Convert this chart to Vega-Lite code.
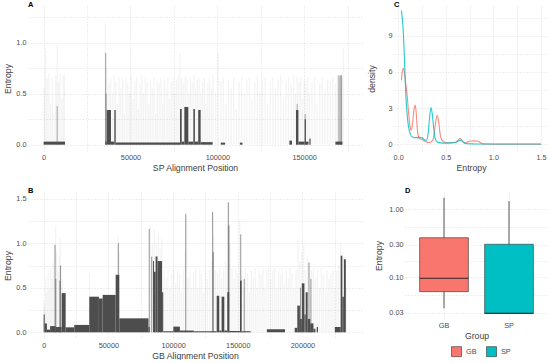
{
"$schema": "https://vega.github.io/schema/vega-lite/v6.json",
"padding": {"left": 3, "top": 0, "right": 0, "bottom": 0},
"background": "white",
"config": {
  "view": {"stroke": null},
  "font": "Liberation Sans",
  "axis": {"labelFontSize": 7.3, "labelColor": "#4d4d4d", "titleFontSize": 8.7, "titleColor": "#404040", "titleFontWeight": "normal", "domain": false, "ticks": false, "gridColor": "#d6d6d6", "gridDash": [1, 2], "gridWidth": 0.8, "labelPadding": 2, "titlePadding": 3, "labelFlush": false, "labelOverlap": false},
  "title": {"fontSize": 7.5, "fontWeight": "bold", "color": "#000000", "anchor": "start", "frame": "group", "offset": -2}
},
"resolve": {"scale": {"fill": "independent", "stroke": "independent"}, "legend": {"fill": "independent", "stroke": "independent"}},
"datasets": {
  "A_faint": [
    {"p":300,"e":0.55},{"p":1200,"e":0.95},{"p":2000,"e":0.65},{"p":3000,"e":0.7},{"p":4000,"e":0.4},{"p":5000,"e":0.66},{"p":6000,"e":0.3},{"p":7000,"e":0.68},{"p":7800,"e":0.98},{"p":8600,"e":0.62},{"p":9500,"e":0.7},{"p":10500,"e":0.45},{"p":11300,"e":0.68},{"p":12000,"e":0.7},
    {"p":35500,"e":1.2},{"p":35800,"e":0.9},{"p":36500,"e":0.75},{"p":37500,"e":0.6},{"p":38500,"e":0.65},{"p":39500,"e":0.5},{"p":40500,"e":0.68},{"p":41500,"e":0.62},{"p":42500,"e":0.4},{"p":43500,"e":0.66},{"p":44500,"e":0.55},{"p":45500,"e":0.64},{"p":46500,"e":0.3},{"p":47500,"e":0.66},{"p":48500,"e":0.6},{"p":49500,"e":0.5},{"p":50500,"e":0.67},{"p":51500,"e":0.45},{"p":52500,"e":0.62},{"p":53500,"e":0.66},{"p":54500,"e":0.35},{"p":55500,"e":0.6},{"p":56500,"e":0.68},{"p":57500,"e":0.5},{"p":58500,"e":0.66},{"p":59500,"e":0.62},{"p":60500,"e":0.4},{"p":61500,"e":0.65},{"p":62500,"e":0.55},{"p":63500,"e":0.66},{"p":64500,"e":0.3},{"p":65500,"e":0.62},{"p":66500,"e":0.6},{"p":67500,"e":0.66},{"p":68500,"e":0.4},{"p":69500,"e":0.64},{"p":70500,"e":0.55},{"p":71500,"e":0.66},{"p":72500,"e":0.45},{"p":73500,"e":0.62},{"p":74500,"e":0.66},{"p":75500,"e":0.5},{"p":76500,"e":0.64},{"p":77500,"e":0.68},{"p":78500,"e":0.9},{"p":79500,"e":0.66},{"p":80500,"e":0.6},{"p":81500,"e":0.68},{"p":82500,"e":0.65},{"p":83500,"e":0.5},{"p":84500,"e":0.66},{"p":85500,"e":0.62},{"p":86500,"e":0.68},{"p":87500,"e":0.55},{"p":88500,"e":0.64},{"p":89500,"e":0.66},{"p":90500,"e":0.5},{"p":91500,"e":0.62},{"p":92500,"e":0.66},{"p":93500,"e":0.4},{"p":94500,"e":0.6},{"p":95500,"e":0.66},{"p":96500,"e":0.55},{"p":97500,"e":0.68},{"p":99000,"e":0.5},{"p":100500,"e":0.9},{"p":102000,"e":0.62},{"p":103500,"e":0.66},{"p":105000,"e":0.4},{"p":106500,"e":0.64},{"p":108000,"e":0.55},{"p":109500,"e":0.66},{"p":111000,"e":0.35},{"p":112500,"e":0.62},{"p":114000,"e":0.66},{"p":115500,"e":0.5},{"p":117000,"e":0.64},{"p":118500,"e":0.66},{"p":120000,"e":0.45},{"p":121500,"e":0.62},{"p":123000,"e":0.68},{"p":124500,"e":0.5},{"p":126000,"e":0.64},{"p":127500,"e":0.66},{"p":129000,"e":0.4},{"p":130500,"e":0.62},{"p":132000,"e":0.66},{"p":133500,"e":0.55},{"p":135000,"e":0.64},{"p":136500,"e":0.68},{"p":138000,"e":0.45},{"p":139500,"e":0.62},{"p":141000,"e":0.66},{"p":142500,"e":0.6},{"p":144000,"e":0.68},{"p":145000,"e":0.5},{"p":146000,"e":0.66},{"p":147000,"e":0.62},{"p":148000,"e":0.66},{"p":149000,"e":0.45},{"p":150000,"e":0.64},{"p":151000,"e":0.6},{"p":152000,"e":0.66},{"p":153000,"e":0.5},{"p":154500,"e":0.62},{"p":156000,"e":0.66},{"p":157500,"e":0.4},{"p":159000,"e":0.6},{"p":160500,"e":0.66},{"p":162000,"e":0.55},{"p":163500,"e":0.64},{"p":165000,"e":0.62},{"p":166500,"e":0.66},{"p":168000,"e":0.6},{"p":169000,"e":0.68},{"p":169500,"e":0.68},{"p":170000,"e":0.66},{"p":170500,"e":0.68},{"p":171000,"e":0.7},{"p":171500,"e":0.68},{"p":172000,"e":0.66},{"p":172500,"e":0.95}
  ],
  "A_mid": [
    {"p":7800,"e":0.38},{"p":35700,"e":0.9},{"p":36000,"e":0.5},{"p":146000,"e":0.4},{"p":150600,"e":0.3},{"p":170000,"e":0.68},{"p":170800,"e":0.68},{"p":171500,"e":0.68}
  ],
  "A_dark": [
    {"p":0,"p2":12300,"e":0.03},{"p":35500,"p2":36300,"e":0.03},{"p":36300,"p2":38800,"e":0.34},{"p":38800,"p2":40700,"e":0.03},{"p":40700,"p2":41500,"e":0.34},{"p":41500,"p2":78500,"e":0.022},{"p":78500,"p2":79500,"e":0.35},{"p":79500,"p2":81000,"e":0.03},{"p":81000,"p2":83300,"e":0.37},{"p":83300,"p2":86200,"e":0.03},{"p":86200,"p2":87100,"e":0.35},{"p":87100,"p2":89000,"e":0.03},{"p":89000,"p2":90400,"e":0.34},{"p":90400,"p2":97300,"e":0.025},{"p":102000,"p2":104500,"e":0.02},{"p":113000,"p2":114500,"e":0.02},{"p":141500,"p2":143000,"e":0.04},{"p":145300,"p2":146700,"e":0.34},{"p":146700,"p2":150300,"e":0.03},{"p":150300,"p2":151000,"e":0.25},{"p":151000,"p2":152500,"e":0.03},{"p":153000,"p2":153700,"e":0.06},{"p":168000,"p2":172000,"e":0.03}
  ],
  "B_faint": [
    {"p":0,"e":0.35},{"p":800,"e":0.28},{"p":1500,"e":0.6},{"p":2500,"e":0.45},{"p":3500,"e":0.7},{"p":4500,"e":0.5},{"p":5500,"e":0.72},{"p":6500,"e":0.6},{"p":7500,"e":0.8},{"p":8500,"e":1.0},{"p":9200,"e":1.2},{"p":10000,"e":0.9},{"p":11000,"e":0.7},{"p":12000,"e":0.85},{"p":12800,"e":1.05},{"p":13500,"e":0.75},{"p":14500,"e":0.6},
    {"p":35500,"e":0.66},{"p":57700,"e":1.08},{"p":58200,"e":0.9},{"p":82500,"e":1.2},{"p":84000,"e":1.0},{"p":85500,"e":1.15},{"p":87000,"e":1.0},{"p":88500,"e":1.1},{"p":90000,"e":0.95},{"p":91500,"e":1.05},{"p":93000,"e":0.7},
    {"p":94500,"e":0.6},{"p":96000,"e":0.7},{"p":97500,"e":0.5},{"p":99000,"e":0.66},{"p":100500,"e":0.72},{"p":102000,"e":0.55},{"p":103500,"e":0.7},{"p":105000,"e":0.66},{"p":106500,"e":0.45},{"p":108000,"e":0.7},{"p":109500,"e":0.9},{"p":110500,"e":1.3},{"p":111500,"e":0.6},{"p":113000,"e":0.7},{"p":114500,"e":0.5},{"p":116000,"e":0.68},{"p":117500,"e":0.72},{"p":119000,"e":0.5},{"p":120500,"e":0.7},{"p":122000,"e":0.66},{"p":123500,"e":0.45},{"p":125000,"e":0.7},{"p":126500,"e":0.6},{"p":128000,"e":0.7},{"p":129500,"e":0.8},{"p":130500,"e":1.35},{"p":131500,"e":1.1},{"p":133000,"e":0.7},{"p":134500,"e":0.66},{"p":136000,"e":0.72},{"p":137500,"e":0.6},{"p":139000,"e":0.7},{"p":140500,"e":0.8},{"p":142000,"e":1.2},{"p":143000,"e":1.46},{"p":144000,"e":1.0},{"p":145500,"e":0.72},{"p":147000,"e":0.6},{"p":148500,"e":0.7},{"p":150000,"e":0.66},{"p":151500,"e":1.25},{"p":153000,"e":0.7},{"p":154500,"e":0.5},{"p":156000,"e":0.72},{"p":157500,"e":0.66},{"p":159000,"e":0.45},{"p":160500,"e":0.7},{"p":162000,"e":0.6},{"p":163500,"e":0.72},{"p":165000,"e":0.5},{"p":166500,"e":0.7},{"p":168000,"e":0.66},{"p":169500,"e":0.72},{"p":171000,"e":0.5},{"p":172500,"e":0.7},{"p":174000,"e":0.72},{"p":175500,"e":0.6},{"p":177000,"e":0.7},{"p":178500,"e":0.72},{"p":180000,"e":0.5},{"p":181500,"e":0.7},{"p":183000,"e":0.66},{"p":184500,"e":0.72},{"p":186000,"e":0.55},{"p":187500,"e":0.7},{"p":189000,"e":0.6},{"p":190500,"e":0.72},{"p":192000,"e":0.66},{"p":193500,"e":0.5},{"p":195000,"e":0.7},{"p":196500,"e":1.05},{"p":198000,"e":0.8},{"p":199500,"e":0.9},{"p":201000,"e":1.0},{"p":202500,"e":0.7},{"p":204000,"e":0.85},{"p":205500,"e":0.8},{"p":207000,"e":0.7},{"p":208500,"e":0.72},{"p":210000,"e":0.6},{"p":211500,"e":0.7},{"p":213000,"e":0.5},{"p":214500,"e":0.72},{"p":216000,"e":0.66},{"p":217500,"e":0.45},{"p":219000,"e":0.7},{"p":220500,"e":0.6},{"p":222000,"e":0.66},{"p":223500,"e":0.7},{"p":225000,"e":0.5},{"p":226500,"e":0.7},{"p":228000,"e":0.75},{"p":229500,"e":1.0},{"p":231000,"e":0.9},{"p":232500,"e":0.85},{"p":234000,"e":0.5}
  ],
  "B_mid": [
    {"p":8800,"e":0.98},{"p":9400,"e":0.6},{"p":12500,"e":0.58},{"p":13000,"e":0.75},{"p":57700,"e":1.0},{"p":81600,"e":1.16},{"p":83500,"e":0.85},{"p":109800,"e":1.33},{"p":130600,"e":1.35},{"p":131100,"e":0.9},{"p":142700,"e":1.46},{"p":143200,"e":1.2},{"p":152300,"e":1.1},{"p":155000,"e":0.6},{"p":198500,"e":0.5},{"p":205000,"e":0.78},{"p":206500,"e":0.6}
  ],
  "B_dark": [
    {"p":0,"p2":800,"e":0.2},{"p":800,"p2":2500,"e":0.1},{"p":2500,"p2":5000,"e":0.03},{"p":5000,"p2":9000,"e":0.07},{"p":9000,"p2":13900,"e":0.06},{"p":13900,"p2":17000,"e":0.44},{"p":17000,"p2":23650,"e":0.056},{"p":23650,"p2":35240,"e":0.083},{"p":35240,"p2":42700,"e":0.4},{"p":42700,"p2":45600,"e":0.38},{"p":45600,"p2":55640,"e":0.42},{"p":55640,"p2":58450,"e":0.646},{"p":58450,"p2":81000,"e":0.157},{"p":81000,"p2":82000,"e":0.06},{"p":84500,"p2":85250,"e":0.8},{"p":85250,"p2":86500,"e":0.68},{"p":86500,"p2":88000,"e":0.85},{"p":88000,"p2":91500,"e":0.8},{"p":91500,"p2":92400,"e":0.45},{"p":92400,"p2":100200,"e":0.012},{"p":100200,"p2":105300,"e":0.064},{"p":105300,"p2":116000,"e":0.02},{"p":116000,"p2":133700,"e":0.012},{"p":133700,"p2":135700,"e":0.41},{"p":135700,"p2":137500,"e":0.02},{"p":137500,"p2":139600,"e":0.4},{"p":139600,"p2":141900,"e":0.02},{"p":141900,"p2":143400,"e":0.45},{"p":143400,"p2":151700,"e":0.015},{"p":151700,"p2":153000,"e":0.58},{"p":153000,"p2":160000,"e":0.012},{"p":172500,"p2":186500,"e":0.035},{"p":194000,"p2":196000,"e":0.05},{"p":196000,"p2":198000,"e":0.3},{"p":198000,"p2":199500,"e":0.15},{"p":199500,"p2":201500,"e":0.55},{"p":201500,"p2":202500,"e":0.2},{"p":202500,"p2":204000,"e":0.45},{"p":204000,"p2":206000,"e":0.15},{"p":206000,"p2":208500,"e":0.1},{"p":208500,"p2":210000,"e":0.04},{"p":211000,"p2":212000,"e":0.06},{"p":225000,"p2":229500,"e":0.06},{"p":229500,"p2":230800,"e":0.86},{"p":230800,"p2":232000,"e":0.4},{"p":232000,"p2":233500,"e":0.82}
  ],
  "C_dens": [
    {"g":"GB","x":0.035,"d":5.3},{"g":"GB","x":0.045,"d":6.1},{"g":"GB","x":0.055,"d":6.3},{"g":"GB","x":0.065,"d":6.0},{"g":"GB","x":0.08,"d":5.0},{"g":"GB","x":0.095,"d":4.0},{"g":"GB","x":0.11,"d":2.6},{"g":"GB","x":0.125,"d":1.5},{"g":"GB","x":0.135,"d":1.15},{"g":"GB","x":0.15,"d":1.6},{"g":"GB","x":0.165,"d":2.8},{"g":"GB","x":0.178,"d":3.25},{"g":"GB","x":0.19,"d":2.6},{"g":"GB","x":0.2,"d":1.4},{"g":"GB","x":0.215,"d":0.6},{"g":"GB","x":0.23,"d":0.45},{"g":"GB","x":0.25,"d":0.4},{"g":"GB","x":0.27,"d":0.3},{"g":"GB","x":0.3,"d":0.18},{"g":"GB","x":0.33,"d":0.15},{"g":"GB","x":0.36,"d":0.3},{"g":"GB","x":0.38,"d":0.9},{"g":"GB","x":0.395,"d":1.9},{"g":"GB","x":0.41,"d":2.4},{"g":"GB","x":0.425,"d":1.9},{"g":"GB","x":0.44,"d":0.9},{"g":"GB","x":0.46,"d":0.35},{"g":"GB","x":0.5,"d":0.15},{"g":"GB","x":0.55,"d":0.12},{"g":"GB","x":0.6,"d":0.15},{"g":"GB","x":0.63,"d":0.35},{"g":"GB","x":0.65,"d":0.5},{"g":"GB","x":0.67,"d":0.3},{"g":"GB","x":0.7,"d":0.1},{"g":"GB","x":0.73,"d":0.2},{"g":"GB","x":0.76,"d":0.27},{"g":"GB","x":0.8,"d":0.28},{"g":"GB","x":0.84,"d":0.25},{"g":"GB","x":0.87,"d":0.1},{"g":"GB","x":0.9,"d":0.02},{"g":"GB","x":1.0,"d":0.01},{"g":"GB","x":1.2,"d":0.01},{"g":"GB","x":1.5,"d":0.01},
    {"g":"SP","x":0.035,"d":11.1},{"g":"SP","x":0.05,"d":9.8},{"g":"SP","x":0.06,"d":8.3},{"g":"SP","x":0.07,"d":6.2},{"g":"SP","x":0.08,"d":4.2},{"g":"SP","x":0.09,"d":2.9},{"g":"SP","x":0.1,"d":2.0},{"g":"SP","x":0.115,"d":1.2},{"g":"SP","x":0.13,"d":0.8},{"g":"SP","x":0.15,"d":0.6},{"g":"SP","x":0.18,"d":0.55},{"g":"SP","x":0.21,"d":0.55},{"g":"SP","x":0.24,"d":0.55},{"g":"SP","x":0.26,"d":0.5},{"g":"SP","x":0.28,"d":0.35},{"g":"SP","x":0.3,"d":0.35},{"g":"SP","x":0.315,"d":0.9},{"g":"SP","x":0.33,"d":2.2},{"g":"SP","x":0.345,"d":3.05},{"g":"SP","x":0.36,"d":2.4},{"g":"SP","x":0.375,"d":1.2},{"g":"SP","x":0.39,"d":0.45},{"g":"SP","x":0.41,"d":0.2},{"g":"SP","x":0.45,"d":0.12},{"g":"SP","x":0.5,"d":0.1},{"g":"SP","x":0.55,"d":0.12},{"g":"SP","x":0.6,"d":0.15},{"g":"SP","x":0.63,"d":0.25},{"g":"SP","x":0.66,"d":0.35},{"g":"SP","x":0.69,"d":0.15},{"g":"SP","x":0.72,"d":0.05},{"g":"SP","x":0.8,"d":0.03},{"g":"SP","x":0.9,"d":0.02},{"g":"SP","x":1.0,"d":0.02},{"g":"SP","x":1.2,"d":0.02},{"g":"SP","x":1.5,"d":0.02}
  ],
  "D_box": [
    {"g":"GB","lo":0.035,"q1":0.0616,"med":0.0966,"q3":0.382,"hi":1.48},
    {"g":"SP","lo":0.0295,"q1":0.0295,"med":0.0295,"q3":0.306,"hi":1.32}
  ]
},
"spacing": 14,
"vconcat": [
  {
    "spacing": 5,
    "hconcat": [
      {
        "title": {"text": "A"},
        "width": 334, "height": 145,
        "encoding": {
          "x": {"field": "p", "type": "quantitative", "scale": {"domain": [-9000, 183300], "nice": false, "zero": false},
                "axis": {"title": "SP Alignment Position", "values": [0,25000,50000,75000,100000,125000,150000,175000], "labelExpr": "datum.value % 50000 === 0 ? format(datum.value, 'd') : ''"}},
          "y": {"field": "e", "type": "quantitative", "scale": {"domain": [-0.062, 1.36], "nice": false, "zero": false},
                "axis": {"title": "Entropy", "values": [0,0.25,0.5,0.75,1,1.25], "labelExpr": "(datum.value * 2) % 1 === 0 ? format(datum.value, '.1f') : ''"}}
        },
        "layer": [
          {"data": {"name": "A_faint"}, "mark": {"type": "rule", "color": "#333333", "opacity": 0.055, "strokeWidth": 1.3, "clip": true}, "encoding": {"y2": {"datum": 0}}},
          {"data": {"name": "A_mid"}, "mark": {"type": "rule", "color": "#333333", "opacity": 0.4, "strokeWidth": 1, "clip": true}, "encoding": {"y2": {"datum": 0}}},
          {"data": {"name": "A_dark"}, "mark": {"type": "rect", "color": "#4d4d4d", "clip": true}, "encoding": {"x2": {"field": "p2"}, "y2": {"datum": 0}}}
        ]
      },
      {
        "title": {"text": "C"},
        "width": 154, "height": 145,
        "data": {"name": "C_dens"},
        "mark": {"type": "line", "strokeWidth": 1.1, "interpolate": "monotone", "opacity": 0.85},
        "encoding": {
          "x": {"field": "x", "type": "quantitative", "scale": {"domain": [-0.0435, 1.5735], "nice": false, "zero": false},
                "axis": {"title": "Entropy", "values": [0,0.25,0.5,0.75,1,1.25,1.5], "labelExpr": "(datum.value * 2) % 1 === 0 ? format(datum.value, '.1f') : ''"}},
          "y": {"field": "d", "type": "quantitative", "scale": {"domain": [-0.555, 11.46], "nice": false, "zero": false},
                "axis": {"title": "density", "titlePadding": 11, "values": [0,1.5,3,4.5,6,7.5,9,10.5], "labelExpr": "datum.value % 3 === 0 ? format(datum.value, 'd') : ''"}},
          "stroke": {"field": "g", "type": "nominal", "scale": {"domain": ["GB","SP"], "range": ["#F8766D","#00BFC4"]}, "legend": null}
        }
      }
    ]
  },
  {
    "spacing": 12,
    "resolve": {"scale": {"fill": "independent"}, "legend": {"fill": "independent"}},
    "hconcat": [
      {
        "title": {"text": "B"},
        "width": 334, "height": 147,
        "encoding": {
          "x": {"field": "p", "type": "quantitative", "scale": {"domain": [-12100, 246000], "nice": false, "zero": false},
                "axis": {"title": "GB Alignment Position", "values": [0,25000,50000,75000,100000,125000,150000,175000,200000,225000], "labelExpr": "datum.value % 50000 === 0 ? format(datum.value, 'd') : ''"}},
          "y": {"field": "e", "type": "quantitative", "scale": {"domain": [-0.075, 1.575], "nice": false, "zero": false},
                "axis": {"title": "Entropy", "values": [0,0.25,0.5,0.75,1,1.25,1.5], "labelExpr": "(datum.value * 2) % 1 === 0 ? format(datum.value, '.1f') : ''"}}
        },
        "layer": [
          {"data": {"name": "B_faint"}, "mark": {"type": "rule", "color": "#333333", "opacity": 0.055, "strokeWidth": 1.3, "clip": true}, "encoding": {"y2": {"datum": 0}}},
          {"data": {"name": "B_mid"}, "mark": {"type": "rule", "color": "#333333", "opacity": 0.5, "strokeWidth": 1, "clip": true}, "encoding": {"y2": {"datum": 0}}},
          {"data": {"name": "B_dark"}, "mark": {"type": "rect", "color": "#4d4d4d", "clip": true}, "encoding": {"x2": {"field": "p2"}, "y2": {"datum": 0}}}
        ]
      },
      {
        "title": {"text": "D"},
        "width": 143, "height": 127,
        "data": {"name": "D_box"},
        "encoding": {
          "x": {"field": "g", "type": "nominal", "scale": {"paddingInner": 0.25, "paddingOuter": 0.225},
                "axis": {"title": "Group", "labelAngle": 0, "grid": true, "bandPosition": 0.5, "labelPadding": 2}}
        },
        "layer": [
          {"mark": {"type": "rule", "color": "#555555", "strokeWidth": 1},
           "encoding": {
             "y": {"field": "lo", "type": "quantitative", "scale": {"type": "log", "domain": [0.0244, 1.795], "nice": false},
                   "axis": {"title": "Entropy", "titlePadding": 5, "values": [0.03,0.0548,0.1,0.173,0.3,0.548,1], "labelExpr": "indexof([0.03,0.1,0.3,1], datum.value) >= 0 ? format(datum.value, '.2f') : ''"}},
             "y2": {"field": "hi"}}},
          {"mark": {"type": "bar", "stroke": "#333333", "strokeWidth": 0.6},
           "encoding": {
             "y": {"field": "q1", "type": "quantitative"},
             "y2": {"field": "q3"},
             "fill": {"field": "g", "type": "nominal", "scale": {"domain": ["GB","SP"], "range": ["#F8766D","#00BFC4"]},
                      "legend": {"title": null, "orient": "none", "direction": "horizontal", "legendX": 46, "legendY": 154, "symbolType": "square", "symbolSize": 100, "symbolStrokeColor": "#333333", "symbolStrokeWidth": 0.6, "labelFontSize": 7.3, "labelColor": "#4d4d4d", "columnPadding": 8, "padding": 0}}}},
          {"mark": {"type": "tick", "color": "#1a1a1a", "thickness": 1.3, "size": 48.75},
           "encoding": {"y": {"field": "med", "type": "quantitative"}}}
        ]
      }
    ]
  }
]
}
